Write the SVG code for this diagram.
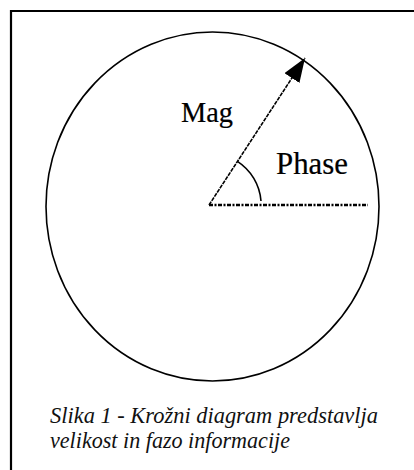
<svg xmlns="http://www.w3.org/2000/svg" width="414" height="470" viewBox="0 0 414 470">
  <style>
    .ink { fill: none; stroke: #000; }
    .lbl { font-family: "Liberation Serif", "DejaVu Serif", serif; fill: #000; stroke: #000; stroke-width: 0.2; }
    .cap { font-family: "Liberation Serif", "DejaVu Serif", serif; font-style: italic; font-size: 24px; fill: #111; }
  </style>
  <defs>
    <marker id="head" viewBox="0 0 24 18" refX="24" refY="9" markerWidth="24" markerHeight="18" markerUnits="userSpaceOnUse" orient="auto">
      <path d="M0,0 L24,9 L0,18 Z" fill="#000"/>
    </marker>
  </defs>
  <rect width="414" height="470" fill="#fff"/>
  <g id="frame">
    <path class="ink" d="M11,470 V11 H414" stroke-width="2.2" stroke="#222"/>
  </g>
  <g id="circle">
    <ellipse class="ink" cx="212.5" cy="206.5" rx="166.5" ry="174.5" stroke-width="1.6"/>
  </g>
  <g id="connectors">
    <line id="mag-vector" class="ink" x1="209" y1="205" x2="305" y2="58" stroke-width="1.6" stroke-dasharray="4 1" marker-end="url(#head)"/>
    <line id="reference-axis" class="ink" x1="209" y1="205" x2="368" y2="205" stroke-width="2.6" stroke-dasharray="4 1.5 2 1.5"/>
    <path id="phase-arc" class="ink" d="M237.4,161.4 A52,52 0 0 1 261,201" stroke-width="1.6"/>
  </g>
  <g id="label-mag">
    <text class="lbl" x="181" y="122" font-size="29" textLength="52" lengthAdjust="spacingAndGlyphs">Mag</text>
  </g>
  <g id="label-phase">
    <text class="lbl" x="276" y="174" font-size="31" textLength="72" lengthAdjust="spacingAndGlyphs">Phase</text>
  </g>
  <g id="caption">
    <text class="cap" x="50" y="423" textLength="328" lengthAdjust="spacingAndGlyphs">Slika 1 - Krožni diagram predstavlja</text>
    <text class="cap" x="50" y="448" textLength="240" lengthAdjust="spacingAndGlyphs">velikost in fazo informacije</text>
  </g>
</svg>
